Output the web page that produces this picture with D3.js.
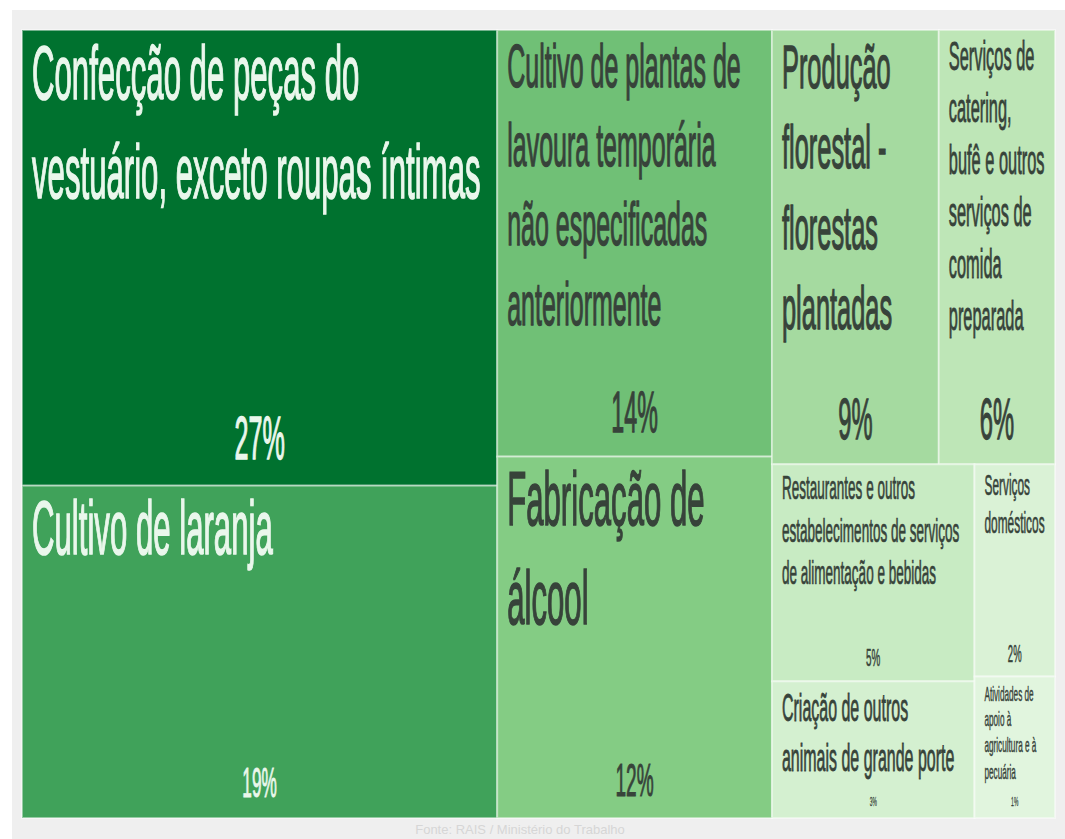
<!DOCTYPE html>
<html>
<head>
<meta charset="utf-8">
<script src="https://cdn.jsdelivr.net/npm/d3@7"></script>
<style>
  body { margin: 0; background: #fff; }
  svg { display: block; }
</style>
</head>
<body>
<svg id="chart" width="1065" height="839"></svg>
<script>
// share of jobs by activity (%)
const categories = [
    'Confecção de peças do vestuário, exceto roupas íntimas',
    'Cultivo de laranja',
    'Cultivo de plantas de lavoura temporária não especificadas anteriormente',
    'Fabricação de álcool',
    'Produção florestal - florestas plantadas',
    'Serviços de catering, bufê e outros serviços de comida preparada',
    'Restaurantes e outros estabelecimentos de serviços de alimentação e bebidas',
    'Criação de outros animais de grande porte',
    'Serviços domésticos',
    'Atividades de apoio à agricultura e à pecuária'
]
const values = [26.6, 19.4, 14.4, 12.2, 8.9, 6.2, 5.4, 3.4, 2.1, 1.4]
// nesting of the treemap blocks
const blocks = ['A', 'A', 'B', 'B', 'C/top', 'C/top', 'C/bottom/left', 'C/bottom/left', 'C/bottom/right', 'C/bottom/right']
const colors = ['#00722f', '#40a25a', '#70c076', '#84cc84', '#a5daa0', '#bee6b7', '#c8ebc3', '#d4f0d0', '#daf2d6', '#e1f5de']
const source = 'Fonte: RAIS / Ministério do Trabalho'

const FONT = '"Liberation Sans", Arial, sans-serif'
const sx = 0.41        // condensed look of the original face
const padX = 10
const maxFont = 76

const svg = d3.select('#chart')
const width = 1033, height = 788
const marginLeft = 22, marginTop = 30

svg.append('rect').attr('x', 12).attr('y', 10).attr('width', 1053).attr('height', 829).style('fill', '#efefef')

const rows = categories.map((name, i) => ({ name, value: values[i], path: blocks[i].split('/') }))

function nest(items, level) {
    return Array.from(d3.group(items, d => d.path[level]), ([key, arr]) =>
        arr[0].path.length > level + 1
            ? { name: key, children: nest(arr, level + 1) }
            : { name: key, children: arr.map(d => ({ name: d.name, value: d.value })) })
}

const root = d3.hierarchy({ name: 'root', children: nest(rows, 0) }).sum(d => d.value || 0)

d3.treemap()
    .size([width, height])
    .tile((node, x0, y0, x1, y1) => (node.depth % 2 ? d3.treemapSlice : d3.treemapDice)(node, x0, y0, x1, y1))(root)

const color = d3.scaleOrdinal(categories, colors)
const pctSize = d3.scaleLinear().domain([140, 460]).range([12, 62]).clamp(true)

const g = svg.append('g').attr('transform', `translate(${marginLeft},${marginTop})`)

const measure = svg.append('text').style('font-family', FONT).attr('visibility', 'hidden')
function textWidth(s, f) {
    measure.style('font-size', f + 'px').text(s)
    return measure.node().getComputedTextLength() * sx
}

function wrap(text, f, maxW) {
    const words = text.split(' ')
    const lines = []
    let line = ''
    for (const w of words) {
        if (textWidth(w, f) > maxW) return null
        const test = line ? line + ' ' + w : w
        if (textWidth(test, f) <= maxW) line = test
        else { lines.push(line); line = w }
    }
    lines.push(line)
    return lines
}

function fit(text, w, h) {
    for (let f = maxFont; f >= 6; f--) {
        const lines = wrap(text, f, w)
        if (lines && lines.length * f * 1.3 <= h) return { f, lines }
    }
    return { f: 6, lines: [text] }
}

const leaves = root.leaves()

const cell = g.selectAll('.cell').data(leaves).enter().append('g').attr('class', 'cell')

cell.append('rect')
    .attr('x', d => d.x0).attr('y', d => d.y0)
    .attr('width', d => d.x1 - d.x0).attr('height', d => d.y1 - d.y0)
    .style('fill', d => color(d.data.name))
    .style('stroke', 'rgba(255,255,255,0.45)').style('stroke-width', 2)

cell.each(function (d) {
    const el = d3.select(this)
    const w = d.x1 - d.x0, h = d.y1 - d.y0
    const pf = pctSize(h)
    const dark = d.value >= 19
    const ink = dark ? '#eaf7ec' : '#37433a'
    const { f, lines } = fit(d.data.name, w - 2 * padX, h - pf * 1.6 - 16)

    const t = el.append('text')
        .attr('transform', `translate(${d.x0 + padX},${d.y0 + 8 + f * 0.8}) scale(${sx},1)`)
        .style('font-family', FONT).style('font-size', f + 'px').style('fill', ink)
        .style('stroke', ink).style('stroke-width', Math.min(1.6, f / 45))
    t.selectAll('tspan').data(lines).enter().append('tspan')
        .attr('x', 0).attr('dy', (l, i) => i ? f * 1.3 : 0).text(l => l)

    el.append('text')
        .attr('transform', `translate(${(d.x0 + d.x1) / 2},${d.y1 - 8 - pf * 0.3}) scale(${sx},1)`)
        .attr('text-anchor', 'middle')
        .style('font-family', FONT).style('font-size', pf + 'px').style('fill', ink)
        .style('stroke', ink).style('stroke-width', Math.min(1.6, pf / 45))
        .text(Math.round(d.value) + '%')
})

measure.remove()

svg.append('text').attr('x', 520).attr('y', 834).attr('text-anchor', 'middle')
    .style('font-family', FONT).style('font-size', '13px').style('fill', '#d6d6d6')
    .text(source)
</script>
</body>
</html>
